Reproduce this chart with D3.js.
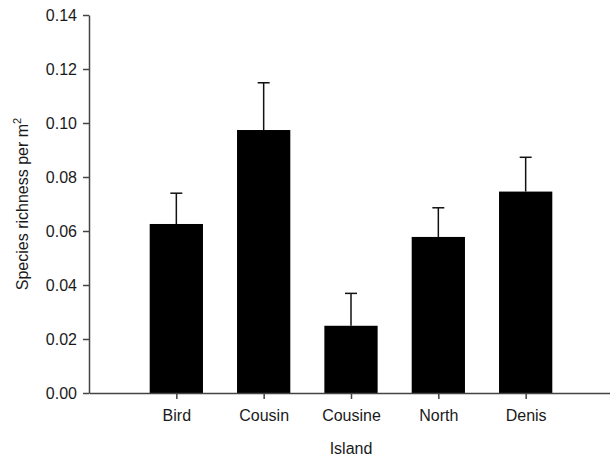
<!DOCTYPE html>
<html>
<head>
<meta charset="utf-8">
<script src="https://cdn.jsdelivr.net/npm/d3@7"></script>
<style>
  body { margin: 0; background: #fff; }
  text { font-family: "Liberation Sans", Arial, sans-serif; fill: #1a1a1a; }
</style>
</head>
<body>
<svg id="chart" width="610" height="457"></svg>
<script>
const islands = ["Bird", "Cousin", "Cousine", "North", "Denis"];
const richness = [0.0626, 0.0974, 0.0249, 0.0578, 0.0746];
const errorTop = [0.0740, 0.1149, 0.0369, 0.0686, 0.0873];
const yTicks = [0, 0.02, 0.04, 0.06, 0.08, 0.10, 0.12, 0.14];

const data = islands.map((name, i) => ({name, value: richness[i], err: errorTop[i]}));

const svg = d3.select("#chart");
const margin = {top: 15, left: 89, bottom: 64};
const height = 457;

const x = d3.scalePoint()
    .domain(islands)
    .range([margin.left, 613])
    .padding(1);

const y = d3.scaleLinear()
    .domain([0, 0.14])
    .range([height - margin.bottom, margin.top]);

const barWidth = x.step() * 0.61;
const capWidth = 12;

// error bars (upper only)
svg.selectAll("line.err")
    .data(data)
    .enter()
    .append("line")
    .attr("class", "err")
    .attr("x1", d => x(d.name))
    .attr("x2", d => x(d.name))
    .attr("y1", d => y(d.value))
    .attr("y2", d => y(d.err))
    .attr("stroke", "#111")
    .attr("stroke-width", 1.5);

svg.selectAll("line.cap")
    .data(data)
    .enter()
    .append("line")
    .attr("class", "cap")
    .attr("x1", d => x(d.name) - capWidth / 2)
    .attr("x2", d => x(d.name) + capWidth / 2)
    .attr("y1", d => y(d.err))
    .attr("y2", d => y(d.err))
    .attr("stroke", "#111")
    .attr("stroke-width", 1.5);

svg.selectAll("rect.bar")
    .data(data)
    .enter()
    .append("rect")
    .attr("class", "bar")
    .attr("x", d => x(d.name) - barWidth / 2)
    .attr("width", barWidth)
    .attr("y", d => y(d.value))
    .attr("height", d => y(0) - y(d.value))
    .attr("fill", "#000");

const xAxisGroup = svg.append("g")
    .attr("class", "xAxis")
    .attr("transform", `translate(0, ${y(0)})`)
    .call(d3.axisBottom(x).tickSize(6).tickSizeOuter(0).tickPadding(11));

const yAxisGroup = svg.append("g")
    .attr("class", "yAxis")
    .attr("transform", `translate(${margin.left}, 0)`)
    .call(d3.axisLeft(y).tickValues(yTicks).tickFormat(d3.format(".2f")).tickSize(6).tickSizeOuter(0).tickPadding(6));

svg.selectAll(".xAxis, .yAxis").selectAll("path, line")
    .attr("stroke", "#444")
    .attr("stroke-width", 1.5);

svg.selectAll(".xAxis, .yAxis").selectAll("text")
    .attr("font-size", 16)
    .attr("font-family", "Liberation Sans, Arial, sans-serif")
    .attr("fill", "#1a1a1a");

svg.append("text")
    .attr("x", x("Cousine"))
    .attr("y", 454)
    .attr("text-anchor", "middle")
    .attr("font-size", 16)
    .text("Island");

const yTitle = svg.append("text")
    .attr("transform", `translate(28, ${y(0.07)}) rotate(-90)`)
    .attr("text-anchor", "middle")
    .attr("font-size", 16);
yTitle.append("tspan").text("Species richness per m");
yTitle.append("tspan").attr("font-size", 11).attr("dy", -7).text("2");
</script>
</body>
</html>
